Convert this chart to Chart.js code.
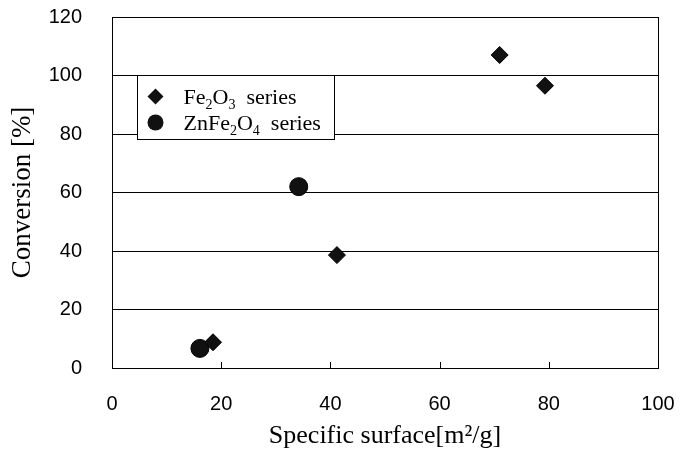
<!DOCTYPE html>
<html>
<head>
<meta charset="utf-8">
<script src="https://cdn.jsdelivr.net/npm/chart.js@4/dist/chart.umd.min.js"></script>
<style>
html,body{margin:0;padding:0;background:#fff;}
canvas{display:block;}
</style>
</head>
<body>
<canvas id="c" width="683" height="457"></canvas>
<script>
// ---- data ----
const feX = [18.5, 41.2, 71.0, 79.3];
const feY = [8.8, 38.6, 107, 96.5];
const znX = [16.1, 34.2];
const znY = [6.7, 62];
const xTicks = [0, 20, 40, 60, 80, 100];
const yTicks = [0, 20, 40, 60, 80, 100, 120];
const xTitle = 'Specific surface[m\u00B2/g]';
const yTitle = 'Conversion [%]';
const seriesNames = [['Fe', '2', 'O', '3', '  series'], ['ZnFe', '2', 'O', '4', '  series']];

const toPts = (xs, ys) => xs.map((x, i) => ({x: x, y: ys[i]}));

const SERIF = '"Liberation Serif", "Times New Roman", serif';
const SANS = '"Liberation Sans", Arial, sans-serif';

const framePlugin = {
  id: 'frame',
  beforeDatasetsDraw(chart) {
    const {ctx, chartArea: a, scales} = chart;
    ctx.save();
    ctx.strokeStyle = '#000';
    ctx.lineWidth = 1;
    ctx.strokeRect(Math.round(a.left) + 0.5, Math.round(a.top) + 0.5,
                   Math.round(a.right - a.left), Math.round(a.bottom - a.top));
    // inward tick marks on x axis
    ctx.beginPath();
    xTicks.slice(1, -1).forEach(v => {
      const px = Math.round(scales.x.getPixelForValue(v)) + 0.5;
      ctx.moveTo(px, a.bottom);
      ctx.lineTo(px, a.bottom - 6);
    });
    ctx.stroke();
    ctx.restore();
  },
  afterDraw(chart) {
    const {ctx, chartArea: a} = chart;
    const bx = Math.round(a.left) + 25.5, by = 75.5, bw = 197, bh = 64;
    ctx.save();
    ctx.fillStyle = '#fff';
    ctx.fillRect(bx, by, bw, bh);
    ctx.strokeStyle = '#000';
    ctx.lineWidth = 1;
    ctx.strokeRect(bx, by, bw, bh);
    // markers
    const mx = bx + 18;
    const rows = [by + 21, by + 47];
    ctx.fillStyle = '#111';
    ctx.beginPath();
    const r = 8;
    ctx.moveTo(mx, rows[0] - r);
    ctx.lineTo(mx + r, rows[0]);
    ctx.lineTo(mx, rows[0] + r);
    ctx.lineTo(mx - r, rows[0]);
    ctx.closePath();
    ctx.fill();
    ctx.beginPath();
    ctx.arc(mx, rows[1], 8, 0, Math.PI * 2);
    ctx.fill();
    // text with subscripts
    ctx.fillStyle = '#000';
    ctx.textBaseline = 'alphabetic';
    ctx.textAlign = 'left';
    const big = '22px ' + SERIF, small = '14px ' + SERIF;
    seriesNames.forEach((parts, i) => {
      let x = bx + 46;
      const base = rows[i] + 7;
      parts.forEach((p, j) => {
        const sub = (j === 1 || j === 3);
        ctx.font = sub ? small : big;
        ctx.fillText(p, x, sub ? base + 5 : base);
        x += ctx.measureText(p).width;
      });
    });
    ctx.restore();
  }
};

new Chart(document.getElementById('c'), {
  type: 'scatter',
  data: {
    datasets: [
      {
        label: 'Fe2O3 series',
        data: toPts(feX, feY),
        pointStyle: 'rectRot',
        pointRadius: 8.5,
        backgroundColor: '#111',
        borderColor: '#000',
        borderWidth: 1
      },
      {
        label: 'ZnFe2O4 series',
        data: toPts(znX, znY),
        pointStyle: 'circle',
        pointRadius: 9,
        backgroundColor: '#111',
        borderColor: '#000',
        borderWidth: 1
      }
    ]
  },
  options: {
    responsive: false,
    animation: false,
    devicePixelRatio: 1,
    layout: {padding: {top: 17, right: 25, bottom: 0, left: 0}},
    plugins: {legend: {display: false}, tooltip: {enabled: false}},
    scales: {
      x: {
        type: 'linear',
        min: 0, max: 100,
        afterBuildTicks(s) { s.ticks = xTicks.map(v => ({value: v})); },
        afterFit(s) { s.height = 89; },
        grid: {display: true, drawOnChartArea: false, drawTicks: true, tickLength: 24,
               color: 'rgba(0,0,0,0)', tickColor: 'rgba(0,0,0,0)'},
        border: {display: false},
        ticks: {color: '#000', padding: 0, font: {family: SANS, size: 20}},
        title: {display: true, text: xTitle, color: '#000',
                font: {family: SERIF, size: 26}, padding: {top: 0, bottom: 5}}
      },
      y: {
        type: 'linear',
        min: 0, max: 120,
        afterBuildTicks(s) { s.ticks = yTicks.map(v => ({value: v})); },
        afterFit(s) { s.width = 112; },
        grid: {display: true, color: '#000', lineWidth: 1, drawTicks: true, tickLength: 30,
               tickColor: 'rgba(0,0,0,0)'},
        border: {display: false},
        ticks: {color: '#000', padding: 0, font: {family: SANS, size: 20}},
        title: {display: true, text: yTitle, color: '#000',
                font: {family: SERIF, size: 27}, padding: {top: 7, bottom: 0}}
      }
    }
  },
  plugins: [framePlugin]
});
</script>
</body>
</html>
